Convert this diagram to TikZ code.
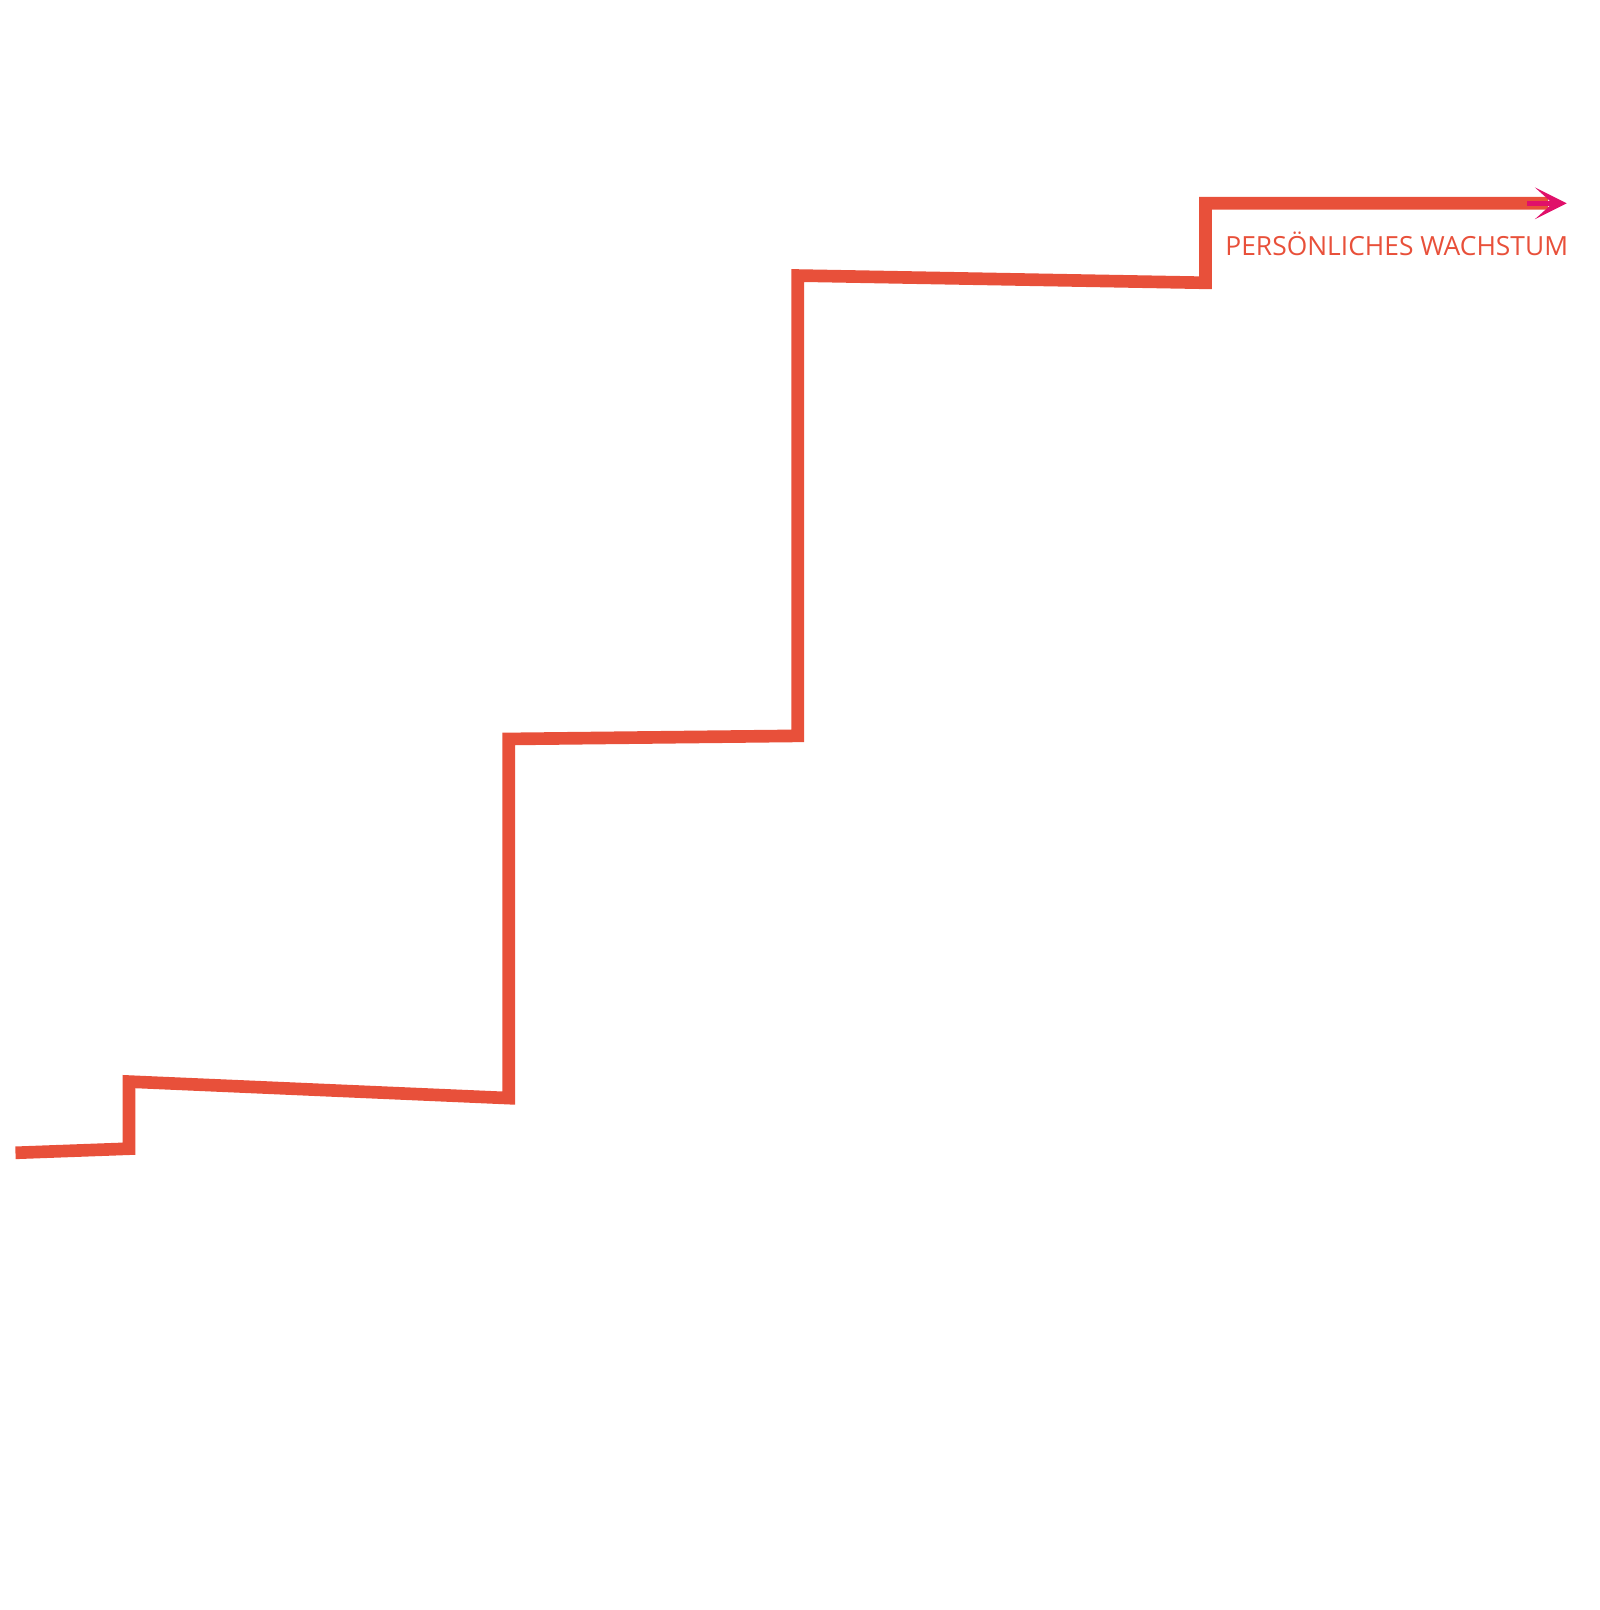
\documentclass[tikz,border=0pt]{standalone}
\usepackage{fontspec}
\setmainfont{Open Sans}
\usetikzlibrary{arrows.meta}
\definecolor{stairred}{HTML}{E8503A}
\definecolor{tipred}{HTML}{E0106A}
\begin{document}
\begin{tikzpicture}[
	x=0.01032cm, y=-0.01032cm,
	stair/.style={draw=stairred, line width=3.6pt, line join=miter},
	label/.style={text=stairred, font=\fontsize{7.5}{9}\selectfont, inner sep=0pt},
	]
\useasboundingbox (0,0) rectangle (1550,1560);
% corners of the steps
\coordinate (s0) at (15,1117);
\coordinate (s1) at (125,1113);
\coordinate (s2) at (125,1048);
\coordinate (s3) at (493,1064);
\coordinate (s4) at (493,716);
\coordinate (s5) at (773,713);
\coordinate (s6) at (773,267);
\coordinate (s7) at (1168,274);
\coordinate (s8) at (1168,197);
\coordinate (s9) at (1500,197);
\draw [stair] (s0) -- (s1) -- (s2) -- (s3) -- (s4) -- (s5) -- (s6) -- (s7) -- (s8) -- (s9);
\draw [draw=tipred, line width=1.5pt, -{Stealth[length=9pt,width=9pt,inset=5pt]}] (1480,197) -- (1518,197);
\node [label, anchor=east] (growth) at (1520,236) {PERSÖNLICHES WACHSTUM};
\end{tikzpicture}
\end{document}
